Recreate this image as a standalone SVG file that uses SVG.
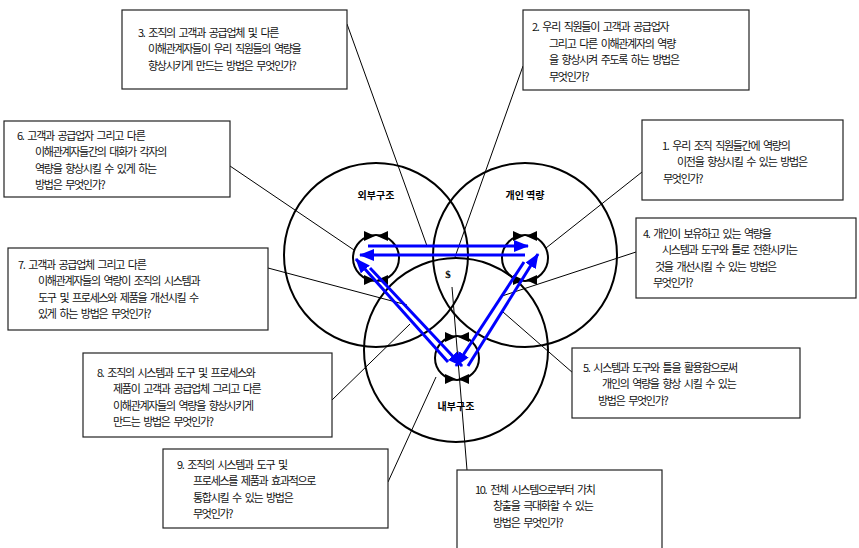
<svg xmlns="http://www.w3.org/2000/svg" width="859" height="548" viewBox="0 0 859 548">
<style>
.bx{fill:#fff;stroke:#222;stroke-width:1.2}
.t{font-family:"Noto Sans CJK KR","Noto Sans",sans-serif;font-size:11px;letter-spacing:-1.3px;word-spacing:2.6px;fill:#111}
.big{fill:none;stroke:#000;stroke-width:2}
.sm{fill:none;stroke:#000;stroke-width:2}
.con{stroke:#000;stroke-width:1;fill:none}
.bl{stroke:#0000ff;stroke-width:3;fill:none;marker-end:url(#ah)}
.lb{font-family:"Noto Sans CJK KR","Noto Sans",sans-serif;font-size:10px;font-weight:bold;fill:#000;text-anchor:middle}
</style>
<defs>
<marker id="ah" markerUnits="userSpaceOnUse" markerWidth="16" markerHeight="12" refX="14" refY="6" orient="auto">
<path d="M0,0 L15,6 L0,12 Z" fill="#0000ff"/>
</marker>
<path id="bow" d="M-12,-5 L-12,5 L-1,0 Z M12,-5 L12,5 L1,0 Z" fill="#000"/>
</defs>

<g id="circles">
<circle class="big" cx="376" cy="255" r="92"/>
<circle class="big" cx="525" cy="255" r="92"/>
<circle class="big" cx="456" cy="350" r="92"/>
<text class="lb" x="376" y="199">외부구조</text>
<text class="lb" x="525" y="199">개인 역량</text>
<text class="lb" x="456" y="410">내부구조</text>
<text x="448" y="278" font-family="Liberation Serif, serif" font-size="11" font-weight="bold" text-anchor="middle">$</text>
</g>

<g id="connectors">
<line class="con" x1="347" y1="24" x2="427" y2="246"/>
<line class="con" x1="523" y1="66" x2="455" y2="257"/>
<line class="con" x1="230" y1="166" x2="354" y2="250"/>
<line class="con" x1="642" y1="172" x2="546" y2="248"/>
<line class="con" x1="268" y1="268" x2="407" y2="305"/>
<line class="con" x1="636" y1="252" x2="502" y2="296"/>
<line class="con" x1="332" y1="400" x2="410" y2="324"/>
<line class="con" x1="573" y1="373" x2="503" y2="312"/>
<line class="con" x1="388" y1="482" x2="436" y2="377"/>
<line class="con" x1="467" y1="470" x2="452" y2="287"/>
</g>

<g id="node-L">
<circle class="sm" cx="376" cy="258" r="23"/>
<use href="#bow" x="376" y="236"/>
<use href="#bow" x="376" y="280"/>
</g>
<g id="node-R">
<circle class="sm" cx="525" cy="258" r="23"/>
<use href="#bow" x="525" y="236"/>
<use href="#bow" x="525" y="280"/>
</g>
<g id="node-B">
<circle class="sm" cx="457" cy="358" r="22"/>
<use href="#bow" x="457" y="337"/>
<use href="#bow" x="457" y="379"/>
</g>

<g id="arrows">
<line class="bl" x1="368" y1="246" x2="528" y2="246"/>
<line class="bl" x1="525" y1="255" x2="360" y2="255"/>
<line class="bl" x1="448" y1="362" x2="356" y2="259"/>
<line class="bl" x1="370" y1="268" x2="462" y2="366"/>
<line class="bl" x1="468" y1="366" x2="538" y2="254"/>
<line class="bl" x1="524" y1="262" x2="456" y2="366"/>
</g>

<g id="box3">
<rect class="bx" x="122" y="10" width="225" height="79"/>
<text class="t" x="138" y="36.5">3. 조직의 고객과 공급업체 및 다른</text>
<text class="t" x="148" y="53">이해관계자들이 우리 직원들의 역량을</text>
<text class="t" x="148" y="69.5">향상시키게 만드는 방법은 무엇인가?</text>
</g>
<g id="box2">
<rect class="bx" x="523" y="10" width="226" height="80"/>
<text class="t" x="532" y="31">2. 우리 직원들이 고객과 공급업자</text>
<text class="t" x="549" y="47.5">그리고 다른 이해관계자의 역량</text>
<text class="t" x="549" y="64">을 향상시켜 주도록 하는 방법은</text>
<text class="t" x="549" y="80.5">무엇인가?</text>
</g>
<g id="box6">
<rect class="bx" x="4" y="121" width="226" height="76"/>
<text class="t" x="17" y="139.5">6. 고객과 공급업자 그리고 다른</text>
<text class="t" x="35" y="156">이해관계자들간의 대화가 각자의</text>
<text class="t" x="35" y="172.5">역량을 향상시킬 수 있게 하는</text>
<text class="t" x="35" y="189">방법은 무엇인가?</text>
</g>
<g id="box1">
<rect class="bx" x="642" y="120" width="201" height="80"/>
<text class="t" x="662" y="149.5">1. 우리 조직 직원들간에 역량의</text>
<text class="t" x="677" y="166">이전을 향상시킬 수 있는 방법은</text>
<text class="t" x="663" y="182.5">무엇인가?</text>
</g>
<g id="box4">
<rect class="bx" x="636" y="218" width="220" height="80"/>
<text class="t" x="643" y="237.5">4. 개인이 보유하고 있는 역량을</text>
<text class="t" x="662" y="254">시스템과 도구와 틀로 전환시키는</text>
<text class="t" x="655" y="270.5">것을 개선시킬 수 있는 방법은</text>
<text class="t" x="653" y="287">무엇인가?</text>
</g>
<g id="box7">
<rect class="bx" x="8" y="248" width="260" height="82"/>
<text class="t" x="18" y="268.5">7. 고객과 공급업체 그리고 다른</text>
<text class="t" x="38" y="285">이해관계자들의 역량이 조직의 시스템과</text>
<text class="t" x="38" y="301.5">도구 및 프로세스와 제품을 개선시킬 수</text>
<text class="t" x="38" y="318">있게 하는 방법은 무엇인가?</text>
</g>
<g id="box8">
<rect class="bx" x="83" y="353" width="249" height="84"/>
<text class="t" x="97" y="376.5">8. 조직의 시스템과 도구 및 프로세스와</text>
<text class="t" x="113" y="393">제품이 고객과 공급업체 그리고 다른</text>
<text class="t" x="113" y="409.5">이해관계자들의 역량을 향상시키게</text>
<text class="t" x="113" y="426">만드는 방법은 무엇인가?</text>
</g>
<g id="box5">
<rect class="bx" x="572" y="348" width="228" height="70"/>
<text class="t" x="583" y="371.5">5. 시스템과 도구와 틀을 활용함으로써</text>
<text class="t" x="602" y="388">개인의 역량을 향상 시킬 수 있는</text>
<text class="t" x="598" y="404.5">방법은 무엇인가?</text>
</g>
<g id="box9">
<rect class="bx" x="163" y="449" width="225" height="79"/>
<text class="t" x="177" y="468.5">9. 조직의 시스템과 도구 및</text>
<text class="t" x="193" y="485">프로세스를 제품과 효과적으로</text>
<text class="t" x="193" y="501.5">통합시킬 수 있는 방법은</text>
<text class="t" x="193" y="518">무엇인가?</text>
</g>
<g id="box10">
<rect class="bx" x="457" y="470" width="205" height="90"/>
<text class="t" x="475" y="493.5">10. 전체 시스템으로부터 가치</text>
<text class="t" x="493" y="510">창출을 극대화할 수 있는</text>
<text class="t" x="493" y="526.5">방법은 무엇인가?</text>
</g>
</svg>
